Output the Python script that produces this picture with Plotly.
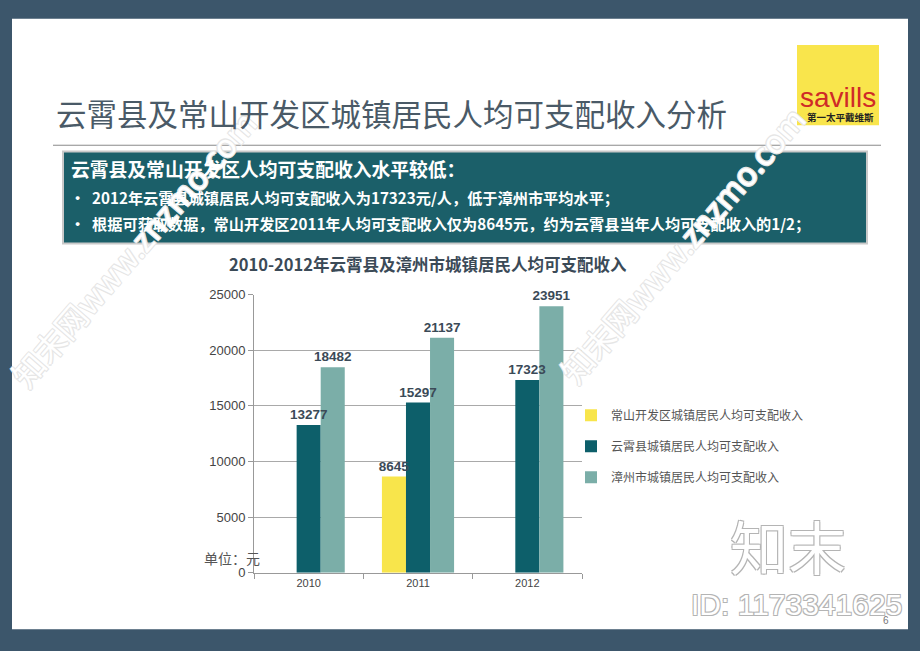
import plotly.graph_objects as go

W, H = 920, 651

# ---- data ----
years = ["2010", "2011", "2012"]
changshan = [None, 8645, None]
yunxiao = [13277, 15297, 17323]
zhangzhou = [18482, 21137, 23951]
series_names = ["常山开发区城镇居民人均可支配收入", "云霄县城镇居民人均可支配收入", "漳州市城镇居民人均可支配收入"]
y_ticks = [0, 5000, 10000, 15000, 20000, 25000]

colors = ["#f8e54b", "#0d5f6a", "#7baea8"]
CJK = "Noto Sans CJK SC"
NUM = "Liberation Sans, Noto Sans CJK SC"


def px(x):
    return x / W


def py(y):
    return 1 - y / H


fig = go.Figure()
all_series = [changshan, yunxiao, zhangzhou]
# real bars
for i, (vals, name) in enumerate(zip(all_series, series_names)):
    fig.add_trace(go.Bar(
        x=years, y=vals, name=name, marker=dict(color=colors[i], line=dict(width=0)),
        legendgroup=f"g{i}", hoverinfo="skip",
    ))
# same bars on an overlaying subplot, transparent, carrying the value labels on top
for i, (vals, name) in enumerate(zip(all_series, series_names)):
    fig.add_trace(go.Bar(
        x=years, y=vals, name=name, xaxis="x2", yaxis="y2", showlegend=False,
        marker=dict(color="rgba(0,0,0,0)", line=dict(width=0)),
        text=[("" if v is None else str(v)) for v in vals],
        textposition="outside", cliponaxis=False, constraintext="none",
        textfont=dict(family=NUM, size=13.5, color="#3b4a57", weight="bold"),
    ))

shapes = [
    dict(type="rect", xref="paper", yref="paper", x0=px(12), x1=px(908), y0=py(637), y1=py(12),
         fillcolor="white", line=dict(width=0), layer="below"),
    dict(type="line", xref="paper", yref="paper", x0=px(53), x1=px(881), y0=py(141.5), y1=py(141.5),
         line=dict(color="#8a8a8a", width=1), layer="below"),
    dict(type="rect", xref="paper", yref="paper", x0=px(63), x1=px(867), y0=py(242), y1=py(148),
         fillcolor="#1b5f69", line=dict(color="#c9c9c9", width=2), layer="below"),
    dict(type="rect", xref="paper", yref="paper", x0=px(797), x1=px(879), y0=py(121), y1=py(39),
         fillcolor="#f9e54c", line=dict(width=0), layer="below"),
]

outline = "-1px -1px 0 #b4b4b4, 1px -1px 0 #b4b4b4, -1px 1px 0 #b4b4b4, 1px 1px 0 #b4b4b4"
faint = "-1px -1px 0 #e6e6e6, 1px -1px 0 #e6e6e6, -1px 1px 0 #e6e6e6, 1px 1px 0 #e6e6e6"


def ann(x, y, text, font, xanchor="center", yanchor="middle", **kw):
    d = dict(x=px(x), y=py(y), text=text, font=font, xanchor=xanchor, yanchor=yanchor,
             showarrow=False, xref="paper", yref="paper")
    d.update(kw)
    return d


annotations = [
    ann(133, 247, "知末网www.znzmo.com", dict(family=CJK, size=32, color="white", shadow=faint), textangle=-49),
    ann(682, 243, "知末网www.znzmo.com", dict(family=CJK, size=32, color="white", shadow=faint), textangle=-49),
    ann(54, 108, "云霄县及常山开发区城镇居民人均可支配收入分析",
        dict(family=CJK, size=30.5, color="#4a5a67"), xanchor="left"),
    ann(838, 93, "savills", dict(family="Liberation Sans", size=28, color="#cf2a27")),
    ann(840, 113, "第一太平戴维斯", dict(family=CJK, size=9.5, color="#222", weight="bold")),
    ann(69, 165, "云霄县及常山开发区人均可支配收入水平较低：",
        dict(family=CJK, size=18.8, color="white", weight="bold"), xanchor="left"),
    ann(68, 194, "•  2012年云霄县城镇居民人均可支配收入为17323元/人，低于漳州市平均水平；",
        dict(family=CJK, size=15.2, color="white", weight="bold"), xanchor="left"),
    ann(68, 221, "•  根据可获取数据，常山开发区2011年人均可支配收入仅为8645元，约为云霄县当年人均可支配收入的1/2；",
        dict(family=CJK, size=15.2, color="white", weight="bold"), xanchor="left"),
    ann(428, 263, "2010-2012年云霄县及漳州市城镇居民人均可支配收入",
        dict(family=CJK, size=16.5, color="#3b4a57", weight="bold")),
    ann(232, 564, "单位：元", dict(family=CJK, size=14, color="#555")),
    ann(788, 551, "知末", dict(family=CJK, size=58, color="white", shadow=outline)),
    ann(796, 612, "ID: 1173341625", dict(family="Liberation Sans", size=30, color="white", shadow=outline)),
    ann(886, 628, "6", dict(family=NUM, size=10, color="#777")),
]

xdom = [px(254), px(582)]
ydom = [py(579), py(294.5)]

fig.update_layout(
    width=W, height=H, margin=dict(l=0, r=0, t=0, b=0),
    paper_bgcolor="#3c566b", plot_bgcolor="rgba(0,0,0,0)",
    barmode="group", bargap=0.34, bargroupgap=0,
    showlegend=True,
    legend=dict(x=px(571), y=py(403), xanchor="left", yanchor="top",
                font=dict(family=CJK, size=12, color="#555"), tracegroupgap=12,
                bgcolor="rgba(0,0,0,0)"),
    shapes=shapes, annotations=annotations,
    xaxis=dict(domain=xdom, type="category", tickson="boundaries",
               ticks="outside", ticklen=5, tickcolor="#999", showline=True, linecolor="#999",
               linewidth=1, tickfont=dict(family=NUM, size=11, color="#444"), showgrid=False),
    yaxis=dict(domain=ydom, range=[0, 25000], tickvals=y_ticks, tickformat="d",
               ticks="outside", ticklen=5, tickcolor="#999", showline=True, linecolor="#999",
               linewidth=1, showgrid=True, gridcolor="#a9a9a9", gridwidth=1, zeroline=False,
               tickfont=dict(family=NUM, size=13, color="#444")),
    xaxis2=dict(domain=xdom, type="category", overlaying="x", anchor="y2", visible=False,
                categoryorder="array", categoryarray=years),
    yaxis2=dict(domain=ydom, range=[0, 25000], overlaying="y", anchor="x2", visible=False),
)

fig.write_html("out.html")
